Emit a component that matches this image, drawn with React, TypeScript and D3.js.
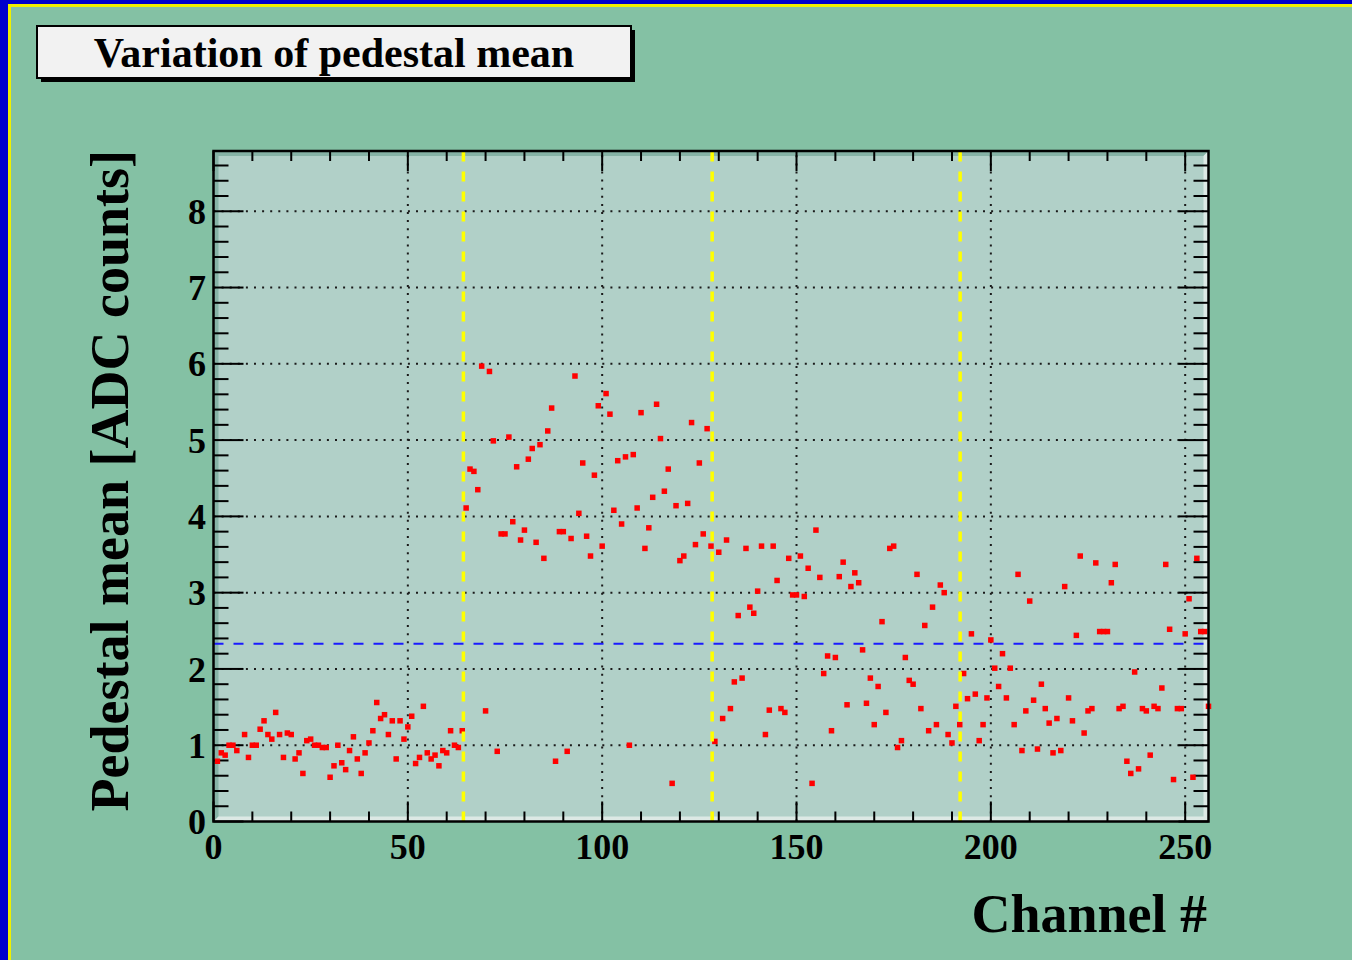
import React from "react";
import * as d3 from "d3";

// Pedestal mean per channel (channels 1..256); null = no entry drawn
const pedestalMean: (number | null)[] = [
  0.79, 0.90, 0.87, 1.00, 1.00, 0.93, null, 1.14, 0.84, 1.00,
  1.00, 1.21, 1.32, 1.14, 1.08, 1.43, 1.14, 0.84, 1.16, 1.14,
  0.82, 0.90, 0.63, 1.06, 1.08, 1.00, 1.00, 0.97, 0.97, 0.58,
  0.73, 1.00, 0.77, 0.68, 0.93, 1.11, 0.82, 0.63, 0.90, 1.03,
  1.19, 1.56, 1.35, 1.40, 1.14, 1.32, 0.82, 1.32, 1.08, 1.24,
  1.38, 0.76, 0.84, 1.51, 0.90, 0.82, 0.87, 0.73, 0.93, 0.90,
  1.19, 1.00, 0.97, 1.19,
  4.11, 4.62, 4.59, 4.35, 5.97, 1.45, 5.90, 4.99, 0.92, 3.77,
  3.77, 5.04, 3.93, 4.65, 3.69, 3.82, 4.75, 4.89, 3.66, 4.94,
  3.45, 5.12, 5.42, 0.79, 3.80, 3.80, 0.92, 3.71, 5.84, 4.04,
  4.70, 3.74, 3.48,
  4.54, 5.45, 3.61, 5.61, 5.34, 4.08, 4.73, 3.90, 4.78, 1.00,
  4.81, 4.11, 5.36, 3.58, 3.85, 4.25, 5.47, 5.02, 4.33, 4.62,
  0.50, 4.14, 3.42, 3.48, 4.17, 5.23, 3.63, 4.70, 3.77, 5.15,
  3.61, 1.05, 3.53,
  1.35, 3.69, 1.48, 1.83, 2.70, 1.88, 3.58, 2.81, 2.73, 3.02,
  3.61, 1.14, 1.46, 3.61, 3.16, 1.48, 1.43, 3.45, 2.97, 2.97,
  3.48, 2.95, 3.32, 0.50, 3.82, 3.20, 1.94, 2.17, 1.19, 2.15,
  3.21, 3.40, 1.53, 3.08,
  3.26, 3.13, 2.25, 1.55, 1.88, 1.27, 1.77, 2.62, 1.43, 3.58,
  3.61, 0.97, 1.06, 2.15, 1.85, 1.80, 3.24, 1.48, 2.57, 1.19,
  2.81, 1.27, 3.10, 3.00, 1.14, 1.03, 1.51, 1.27, 1.94, 1.61,
  2.46, 1.67, 1.06,
  1.27, 1.62, 2.38, 2.01, 1.77, 2.20, 1.62, 2.01, 1.27, 3.24,
  0.93, 1.45, 2.89, 1.59, 0.95, 1.80, 1.48, 1.29, 0.90, 1.35,
  0.93, 3.08, 1.62, 1.32, 2.44, 3.48, 1.16, 1.45, 1.48, 3.39,
  2.49, 2.49, 2.49, 3.13, 3.37, 1.48, 1.51, 0.79, 0.63, 1.96,
  0.69, 1.48, 1.45, 0.87, 1.51, 1.48, 1.75, 3.37, 2.52, 0.55,
  1.48, 1.48, 2.46, 2.92, 0.58, 3.45, 2.49, 2.49, 1.51,
];

// Chip boundaries (every 64 channels) and the overall mean level
const chipBoundaries = [64.3, 128.3, 192.1];
const meanLevel = 2.33;

const xMajorTicks = [0, 50, 100, 150, 200, 250];
const yMajorTicks = [0, 1, 2, 3, 4, 5, 6, 7, 8];

const title = "Variation of pedestal mean";
const xTitle = "Channel #";
const yTitle = "Pedestal mean [ADC counts]";

const W = 1352;
const H = 960;
const FONT = "'Liberation Serif', 'Times New Roman', serif";

export default function App() {
  const L = 213.5, R = 1208.5, T = 151, B = 821.5;
  const x = d3.scaleLinear().domain([0, 256]).range([L, R]);
  const y = d3.scaleLinear().domain([0, 8.79]).range([B, T]);

  const xMinor = d3.range(0, 257, 10).filter((v) => v % 50 !== 0);
  const yMinor = d3.range(0, 8.79, 0.2).filter((v) => Math.abs(v - Math.round(v)) > 1e-6);

  const pts = pedestalMean
    .map((v, i) => ({ ch: i + 1, v }))
    .filter((d) => d.v !== null) as { ch: number; v: number }[];

  const bev = 5;
  const ms = 5.5;

  return (
    <svg
      width={W}
      height={H}
      style={{ position: "absolute", left: 0, top: 0, display: "block" }}
    >
      {/* slide border */}
      <rect x={0} y={0} width={W} height={H} fill="#0000cc" />
      <rect x={8} y={4} width={W} height={H} fill="#f0f000" />
      <rect x={11} y={7} width={W} height={H} fill="#84c1a4" />

      {/* title box */}
      <rect x={41} y={30} width={594} height={52} fill="#000" />
      <rect x={37} y={26} width={594} height={52} fill="#f2f2f2" stroke="#000" strokeWidth={2} />
      <text
        x={334}
        y={67}
        textAnchor="middle"
        fontFamily={FONT}
        fontWeight="bold"
        fontSize={42}
        fill="#000"
      >
        {title}
      </text>

      {/* frame */}
      <rect x={L} y={T} width={R - L} height={B - T} fill="#b1d0c8" />
      <polygon
        points={`${L},${T} ${R},${T} ${R - bev},${T + bev} ${L + bev},${T + bev} ${L + bev},${B - bev} ${L},${B}`}
        fill="#86b3a6"
      />
      <polygon
        points={`${R},${T} ${R},${B} ${L},${B} ${L + bev},${B - bev} ${R - bev},${B - bev} ${R - bev},${T + bev}`}
        fill="#dde9e5"
      />

      {/* grid */}
      <g stroke="#1a1a1a" strokeWidth={2} strokeDasharray="2 6.1">
        {xMajorTicks
          .filter((t) => t > 0)
          .map((t) => (
            <line key={"gx" + t} x1={x(t)} x2={x(t)} y1={B} y2={T} />
          ))}
        {yMajorTicks
          .filter((t) => t > 0)
          .map((t) => (
            <line key={"gy" + t} x1={L} x2={R} y1={y(t)} y2={y(t)} />
          ))}
      </g>

      {/* ticks on all four sides */}
      <g stroke="#000" strokeWidth={2}>
        {xMajorTicks.map((t) => (
          <g key={"xt" + t}>
            <line x1={x(t)} x2={x(t)} y1={B} y2={B - 20} />
            <line x1={x(t)} x2={x(t)} y1={T} y2={T + 20} />
          </g>
        ))}
        {xMinor.map((t) => (
          <g key={"xm" + t}>
            <line x1={x(t)} x2={x(t)} y1={B} y2={B - 10} />
            <line x1={x(t)} x2={x(t)} y1={T} y2={T + 10} />
          </g>
        ))}
        {yMajorTicks.map((t) => (
          <g key={"yt" + t}>
            <line x1={L} x2={L + 30} y1={y(t)} y2={y(t)} />
            <line x1={R} x2={R - 30} y1={y(t)} y2={y(t)} />
          </g>
        ))}
        {yMinor.map((t) => (
          <g key={"ym" + t.toFixed(1)}>
            <line x1={L} x2={L + 15} y1={y(t)} y2={y(t)} />
            <line x1={R} x2={R - 15} y1={y(t)} y2={y(t)} />
          </g>
        ))}
      </g>

      {/* markers */}
      <g fill="#ff0000">
        {pts.map((d) => (
          <rect
            key={"p" + d.ch}
            x={x(d.ch) - ms / 2}
            y={y(d.v) - ms / 2}
            width={ms}
            height={ms}
          />
        ))}
      </g>

      {/* mean level */}
      <line
        x1={L}
        x2={R}
        y1={y(meanLevel)}
        y2={y(meanLevel)}
        stroke="#1a1aff"
        strokeWidth={2}
        strokeDasharray="10 10"
      />

      {/* chip boundaries */}
      {chipBoundaries.map((c) => (
        <line
          key={"cb" + c}
          x1={x(c)}
          x2={x(c)}
          y1={B}
          y2={T}
          stroke="#ffff00"
          strokeWidth={3.5}
          strokeDasharray="10 10"
        />
      ))}

      {/* frame outline */}
      <rect x={L} y={T} width={R - L} height={B - T} fill="none" stroke="#000" strokeWidth={2.5} />

      {/* tick labels */}
      <g fontFamily={FONT} fontWeight="bold" fontSize={36} fill="#000">
        {xMajorTicks.map((t) => (
          <text key={"xl" + t} x={x(t)} y={859} textAnchor="middle">
            {t}
          </text>
        ))}
        {yMajorTicks.map((t) => (
          <text key={"yl" + t} x={206} y={y(t)} dy="0.35em" textAnchor="end">
            {t}
          </text>
        ))}
      </g>

      {/* axis titles */}
      <text
        x={1207}
        y={932}
        textAnchor="end"
        fontFamily={FONT}
        fontWeight="bold"
        fontSize={54}
        fill="#000"
      >
        {xTitle}
      </text>
      <text
        transform={`translate(128,150) rotate(-90)`}
        textAnchor="end"
        fontFamily={FONT}
        fontWeight="bold"
        fontSize={54}
        fill="#000"
      >
        {yTitle}
      </text>
    </svg>
  );
}
